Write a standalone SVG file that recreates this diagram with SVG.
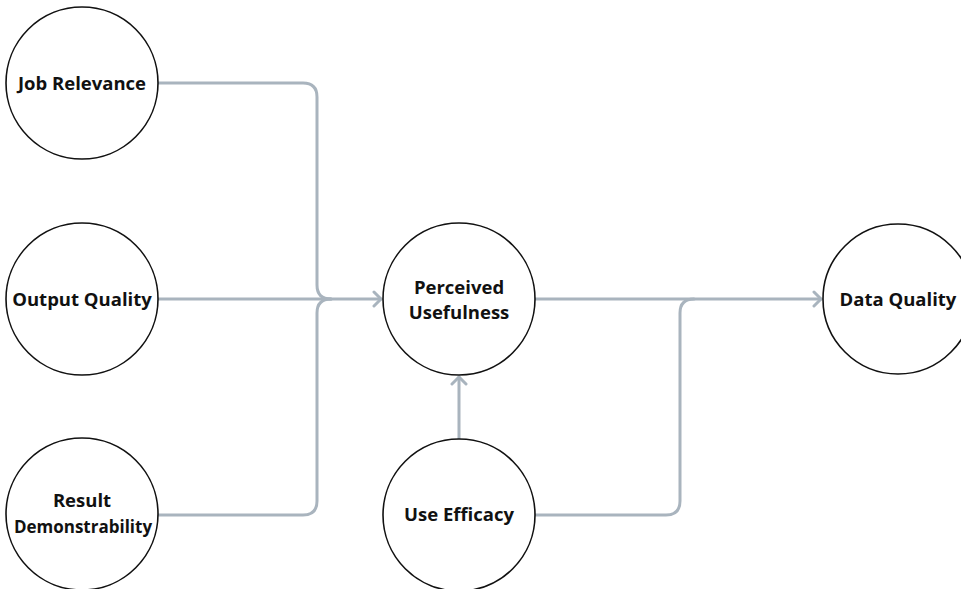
<svg xmlns="http://www.w3.org/2000/svg" width="961" height="589" viewBox="0 0 961 589">
<style>
.node circle{fill:#fff;stroke:#111;stroke-width:1.6}
.node text{font-family:"Open Sans","Liberation Sans",sans-serif;font-weight:700;font-size:18.5px;fill:#111;text-anchor:middle}
.node text.narrow{font-size:17px}
.conn path{fill:none;stroke:#A9B4BE;stroke-width:3;stroke-linecap:round;stroke-linejoin:round}
</style>
<defs>
<marker id="arrow" markerUnits="userSpaceOnUse" viewBox="-10 -9 12 18" refX="0" refY="0" markerWidth="12" markerHeight="18" orient="auto">
<path d="M-7,-7 L0,0 L-7,7" fill="none" stroke="#A9B4BE" stroke-width="3" stroke-linecap="round" stroke-linejoin="round"/>
</marker>
</defs>
<rect width="961" height="589" fill="#fff"/>
<g class="conn" id="connectors">
<path d="M158 83 H303 Q317 83 317 97 V285 Q317 299 331 299"/>
<path d="M158 299 H381" marker-end="url(#arrow)"/>
<path d="M158 515 H303 Q317 515 317 501 V313 Q317 299 331 299"/>
<path d="M535 299 H821" marker-end="url(#arrow)"/>
<path d="M459 439 V377" marker-end="url(#arrow)"/>
<path d="M535 515 H666 Q680 515 680 501 V313 Q680 299 694 299"/>
</g>
<g class="node" id="job-relevance">
<circle cx="82" cy="83" r="76"/>
<text x="82" y="90">Job Relevance</text>
</g>
<g class="node" id="output-quality">
<circle cx="82" cy="299" r="76"/>
<text x="82" y="306">Output Quality</text>
</g>
<g class="node" id="result-demonstrability">
<circle cx="82" cy="514" r="76"/>
<text x="82" y="507">Result</text>
<text class="narrow" x="83" y="533">Demonstrability</text>
</g>
<g class="node" id="perceived-usefulness">
<circle cx="459" cy="299" r="76"/>
<text x="459" y="294">Perceived</text>
<text x="459" y="319">Usefulness</text>
</g>
<g class="node" id="use-efficacy">
<circle cx="459" cy="515" r="76"/>
<text x="459" y="521">Use Efficacy</text>
</g>
<g class="node" id="data-quality">
<circle cx="898" cy="299" r="75"/>
<text x="898" y="306">Data Quality</text>
</g>
</svg>
